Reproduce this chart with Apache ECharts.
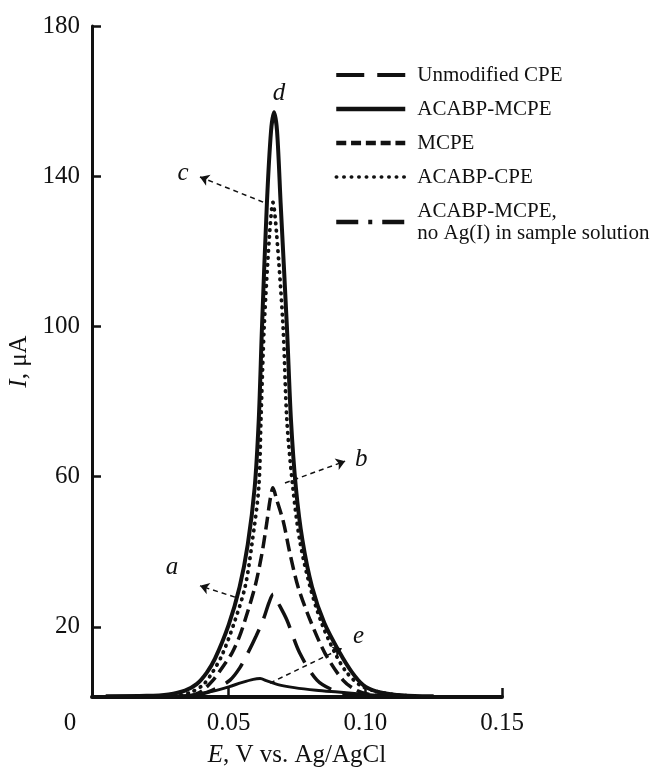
<!DOCTYPE html>
<html>
<head>
<meta charset="utf-8">
<script src="https://cdn.jsdelivr.net/npm/echarts@6/dist/echarts.min.js"></script>
<style>
  html, body { margin: 0; padding: 0; background: #fff; }
  #chart { width: 656px; height: 769px; }
</style>
</head>
<body>
<div id="chart"></div>
<script>
// [E (V), I (uA)]
const unmodifiedCpe = [
  [0.036, 1.5], [0.042, 2.5], [0.0465, 4], [0.0505, 5.8], [0.054, 9], [0.057, 13],
  [0.060, 17.5], [0.0626, 21.8], [0.0648, 26.5], [0.0663, 28.7], [0.068, 26.5],
  [0.0713, 21.8], [0.076, 13], [0.0823, 5.8], [0.088, 3.2], [0.094, 2], [0.100, 1.5]
]
const acabpMcpe = [
  [0.005, 1.5], [0.020, 1.6], [0.028, 2.0], [0.034, 3.0], [0.0384, 4.8], [0.042, 7.8],
  [0.045, 11.5], [0.050, 20.5], [0.054, 30.6], [0.057, 42], [0.0595, 57], [0.061, 75],
  [0.0622, 100], [0.064, 133], [0.0655, 152], [0.0666, 157], [0.0677, 152], [0.069, 133],
  [0.0713, 100], [0.0728, 75], [0.0746, 57], [0.077, 43], [0.0805, 30.6], [0.085, 21],
  [0.0907, 13], [0.095, 8], [0.0992, 4.5], [0.104, 2.8], [0.110, 2.0], [0.118, 1.6], [0.125, 1.5]
]
const mcpe = [
  [0.036, 1.5], [0.040, 2.8], [0.0443, 5.8], [0.048, 9.5], [0.0512, 13], [0.054, 17.5],
  [0.056, 21.8], [0.0596, 30.6], [0.0622, 39.6], [0.064, 48], [0.0652, 54], [0.0662, 57],
  [0.0675, 54], [0.070, 48], [0.0724, 39.6], [0.0754, 30.6], [0.0798, 21.8], [0.0852, 13],
  [0.0918, 5.8], [0.097, 3], [0.103, 1.8], [0.109, 1.5]
]
const acabpCpe = [
  [0.030, 1.5], [0.036, 2.5], [0.0406, 4.5], [0.044, 7.8], [0.0476, 12.5], [0.052, 21],
  [0.056, 30.6], [0.0585, 42], [0.061, 57], [0.0618, 75], [0.063, 100], [0.065, 125],
  [0.0662, 133], [0.0675, 125], [0.0699, 100], [0.0713, 75], [0.0735, 57], [0.076, 43],
  [0.0798, 30.6], [0.084, 21], [0.0889, 13], [0.093, 8], [0.098, 4.5], [0.104, 2.8],
  [0.111, 1.9], [0.118, 1.5]
]
const noSilver = [
  [0.030, 1.5], [0.038, 2], [0.044, 2.8], [0.050, 4], [0.055, 5.2], [0.059, 6],
  [0.0615, 6.2], [0.064, 5.6], [0.068, 4.6], [0.074, 3.8], [0.082, 3.1], [0.090, 2.6],
  [0.098, 2.1], [0.106, 1.7], [0.114, 1.5]
]

const xTicks = [0, 0.05, 0.10, 0.15]
const yTicks = [20, 60, 100, 140, 180]

// curve letters: label position and leader arrow [from, to]
const curveLabels = [
  { name: 'a', at: [0.0293, 35.9], arrow: [[0.0523, 27.9], [0.0395, 30.9]] },
  { name: 'b', at: [0.0985, 64.7], arrow: [[0.0706, 58.3], [0.0926, 64.1]] },
  { name: 'c', at: [0.0333, 140.8], arrow: [[0.0626, 133.1], [0.0395, 139.8]] },
  { name: 'd', at: [0.0684, 162.1], arrow: null },
  { name: 'e', at: [0.0975, 17.3], arrow: [[0.0651, 5.0], [0.0915, 14.3]] }
]

const serif = 'Liberation Serif'
const ink = '#111'

const chart = echarts.init(document.getElementById('chart'))

function lineSeries(name, data, lineStyle, z) {
  return {
    name,
    type: 'line',
    data,
    smooth: 0.3,
    symbol: 'none',
    z,
    lineStyle: Object.assign({ color: ink, width: 3.5 }, lineStyle),
    itemStyle: { color: ink }
  }
}

const NO_AG = 'ACABP-MCPE,\nno Ag(I) in sample solution'

const series = [
  lineSeries('Unmodified CPE', unmodifiedCpe, { type: [26, 12] }, 3),
  lineSeries('MCPE', mcpe, { type: [13, 6] }, 3),
  lineSeries('ACABP-CPE', acabpCpe, { type: [0.5, 6.5], cap: 'round', width: 3.8 }, 4),
  lineSeries(NO_AG, noSilver, { width: 3 }, 3),
  lineSeries('ACABP-MCPE', acabpMcpe, { width: 4 }, 5)
]

// annotation letters and leader arrows, placed in data coordinates
series[4].markLine = {
  silent: true,
  symbol: ['none', 'arrow'],
  symbolSize: 9,
  label: { show: false },
  lineStyle: { color: ink, width: 1.5, type: [5, 4] },
  data: curveLabels.filter(l => l.arrow).map(l => [{ coord: l.arrow[0] }, { coord: l.arrow[1] }])
}
series[4].markPoint = {
  silent: true,
  symbol: 'circle',
  symbolSize: 1,
  itemStyle: { color: 'rgba(0,0,0,0)' },
  label: {
    show: true,
    position: 'inside',
    formatter: '{b}',
    color: ink,
    fontFamily: serif,
    fontStyle: 'italic',
    fontSize: 25
  },
  data: curveLabels.map(l => ({ name: l.name, coord: l.at }))
}

chart.setOption({
  animation: false,
  backgroundColor: '#fff',
  grid: { left: 92, right: 154, top: 26, bottom: 72, outerBoundsMode: 'none' },
  legend: {
    orient: 'vertical',
    left: 334,
    top: 64,
    padding: 0,
    itemWidth: 69,
    itemHeight: 14,
    itemGap: 12,
    itemStyle: { opacity: 0, borderWidth: 0 },
    textStyle: { color: ink, fontFamily: serif, fontSize: 21, lineHeight: 22, padding: [0, 0, 0, 7] },
    data: [
      { name: 'Unmodified CPE', lineStyle: { type: [28, 13], width: 4 } },
      { name: 'ACABP-MCPE', lineStyle: { width: 4.5 } },
      { name: 'MCPE', lineStyle: { type: [10, 4.8], width: 4.5 } },
      { name: 'ACABP-CPE', lineStyle: { type: [0.5, 7], cap: 'round', width: 3.5 } },
      { name: NO_AG, lineStyle: { type: [22, 10, 4, 10], width: 4.5 } }
    ]
  },
  xAxis: {
    type: 'value',
    min: 0,
    max: 0.15,
    name: '{i|E}, V vs. Ag/AgCl',
    nameLocation: 'middle',
    nameGap: 46,
    nameTextStyle: {
      color: ink, fontFamily: serif, fontSize: 25,
      rich: { i: { fontFamily: serif, fontStyle: 'italic', fontSize: 25, color: ink } }
    },
    axisLine: { lineStyle: { color: ink, width: 4 } },
    axisTick: { inside: true, length: 9, lineStyle: { color: ink, width: 2.5 }, customValues: [0.05, 0.10, 0.15] },
    axisLabel: {
      color: ink,
      fontFamily: serif,
      fontSize: 25,
      margin: 14,
      customValues: xTicks,
      formatter: v => (v === 0 ? '{z|0}' : v.toFixed(2)),
      rich: { z: { fontFamily: serif, fontSize: 25, color: ink, padding: [0, 44, 0, 0] } }
    },
    splitLine: { show: false }
  },
  yAxis: {
    type: 'value',
    min: 1.3,
    max: 180,
    name: '{i|I}, μA',
    nameLocation: 'middle',
    nameGap: 52,
    nameTextStyle: {
      color: ink, fontFamily: serif, fontSize: 25,
      rich: { i: { fontFamily: serif, fontStyle: 'italic', fontSize: 25, color: ink } }
    },
    axisLine: { show: true, lineStyle: { color: ink, width: 3 } },
    axisTick: { inside: true, length: 9, lineStyle: { color: ink, width: 2.5 }, customValues: yTicks },
    axisLabel: { color: ink, fontFamily: serif, fontSize: 25, margin: 12, customValues: yTicks },
    splitLine: { show: false }
  },
  series
})
</script>
</body>
</html>
